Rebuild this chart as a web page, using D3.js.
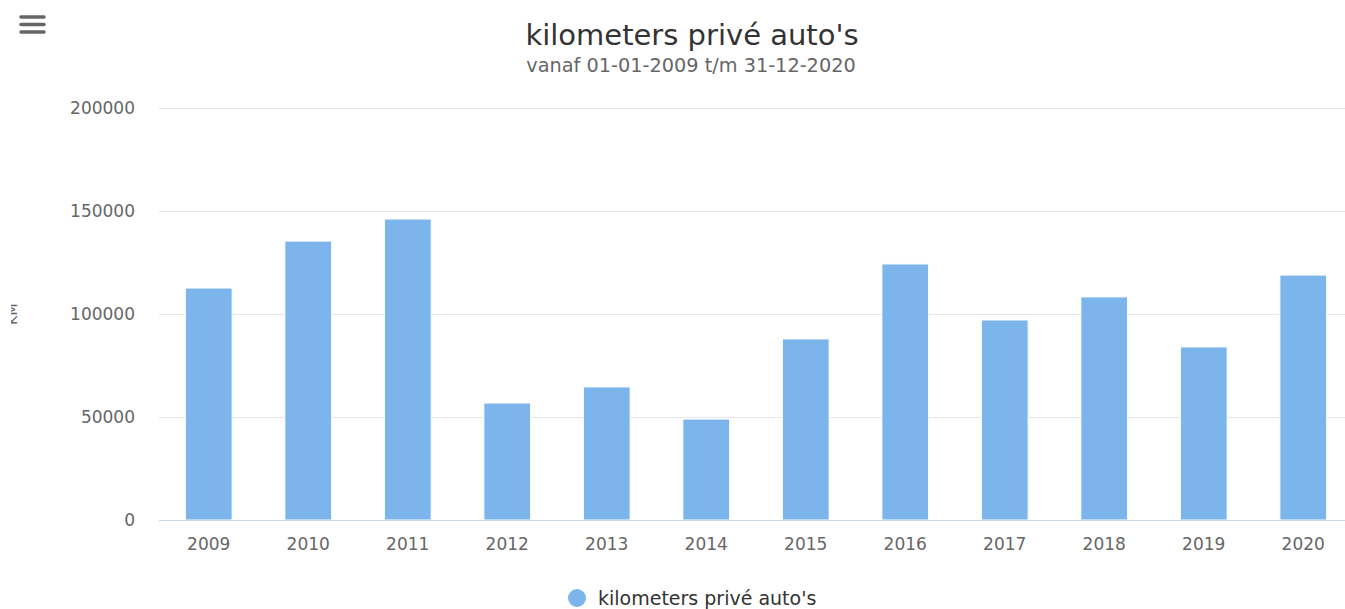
<html>
<head>
<meta charset="utf-8">
<script src="https://cdn.jsdelivr.net/npm/d3@7"></script>
<style>
    body { margin: 0; background: #fff; }
    text { font-family: "DejaVu Sans", Verdana, sans-serif; }
</style>
</head>
<body>
<svg width="1345" height="609"></svg>
<script>
// chart data
var years = ["2009", "2010", "2011", "2012", "2013", "2014", "2015", "2016", "2017", "2018", "2019", "2020"];
var km = [112600, 135400, 146100, 56800, 64600, 49000, 87900, 124300, 97100, 108300, 84000, 118900];
var yTicks = [0, 50000, 100000, 150000, 200000];
var seriesName = "kilometers privé auto's";

var svg = d3.select("svg"),
    width = +svg.attr("width"),
    height = +svg.attr("height");

var x = d3.scaleBand()
    .domain(years)
    .range([159, 1353])
    .paddingInner(0.53)
    .paddingOuter(0.265);

var y = d3.scaleLinear()
    .domain([0, 200000])
    .range([520, 108]);

/* gridlines */
svg.append("g")
    .selectAll("line")
    .data(yTicks.filter(function(d) { return d > 0; }))
    .enter().append("line")
    .attr("x1", 159)
    .attr("x2", 1353)
    .attr("y1", function(d) { return y(d) + 0.5; })
    .attr("y2", function(d) { return y(d) + 0.5; })
    .attr("stroke", "#e6e6e6")
    .attr("stroke-width", 1);

/* y labels */
svg.append("g")
    .selectAll("text")
    .data(yTicks)
    .enter().append("text")
    .attr("x", 135)
    .attr("y", function(d) { return y(d) + 6; })
    .attr("text-anchor", "end")
    .attr("fill", "#666")
    .style("font-size", "17px")
    .text(function(d) { return d; });

/* bars */
svg.append("g")
    .selectAll("rect")
    .data(km)
    .enter().append("rect")
    .attr("x", function(d, i) { return x(years[i]); })
    .attr("y", function(d) { return y(d); })
    .attr("width", x.bandwidth())
    .attr("height", function(d) { return y(0) - y(d); })
    .attr("fill", "#7cb5ec")
    .attr("stroke", "#fff")
    .attr("stroke-width", 1);

/* x axis line */
svg.append("line")
    .attr("x1", 159)
    .attr("x2", 1353)
    .attr("y1", 520.5)
    .attr("y2", 520.5)
    .attr("stroke", "#ccd6eb")
    .attr("stroke-width", 1);

/* x labels */
svg.append("g")
    .selectAll("text")
    .data(years)
    .enter().append("text")
    .attr("x", function(d) { return x(d) + x.bandwidth() / 2; })
    .attr("y", 550)
    .attr("text-anchor", "middle")
    .attr("fill", "#666")
    .style("font-size", "17px")
    .text(function(d) { return d; });

/* y axis title, mostly cut off at the left like in the original */
svg.append("clipPath")
    .attr("id", "ytitle-clip")
    .append("rect")
    .attr("x", 11)
    .attr("y", 0)
    .attr("width", 20)
    .attr("height", height);

svg.append("g")
    .attr("clip-path", "url(#ytitle-clip)")
    .append("text")
    .attr("transform", "translate(17,314) rotate(-90)")
    .attr("text-anchor", "middle")
    .attr("fill", "#666")
    .style("font-size", "14px")
    .text("KM");

/* title and subtitle */
svg.append("text")
    .attr("x", 692)
    .attr("y", 45)
    .attr("text-anchor", "middle")
    .attr("fill", "#333")
    .style("font-size", "29px")
    .text("kilometers privé auto's");

svg.append("text")
    .attr("x", 691)
    .attr("y", 72)
    .attr("text-anchor", "middle")
    .attr("fill", "#666")
    .style("font-size", "19.3px")
    .text("vanaf 01-01-2009 t/m 31-12-2020");

/* menu button */
svg.append("g")
    .selectAll("line")
    .data([17, 24.5, 32])
    .enter().append("line")
    .attr("x1", 21)
    .attr("x2", 44)
    .attr("y1", function(d) { return d; })
    .attr("y2", function(d) { return d; })
    .attr("stroke", "#666")
    .attr("stroke-width", 3.5)
    .attr("stroke-linecap", "round");

/* legend */
var legend = svg.append("g");
legend.append("circle")
    .attr("cx", 577)
    .attr("cy", 598)
    .attr("r", 9)
    .attr("fill", "#7cb5ec");
legend.append("text")
    .attr("x", 598)
    .attr("y", 605)
    .attr("fill", "#333")
    .style("font-size", "19px")
    .text(seriesName);
</script>
</body>
</html>
